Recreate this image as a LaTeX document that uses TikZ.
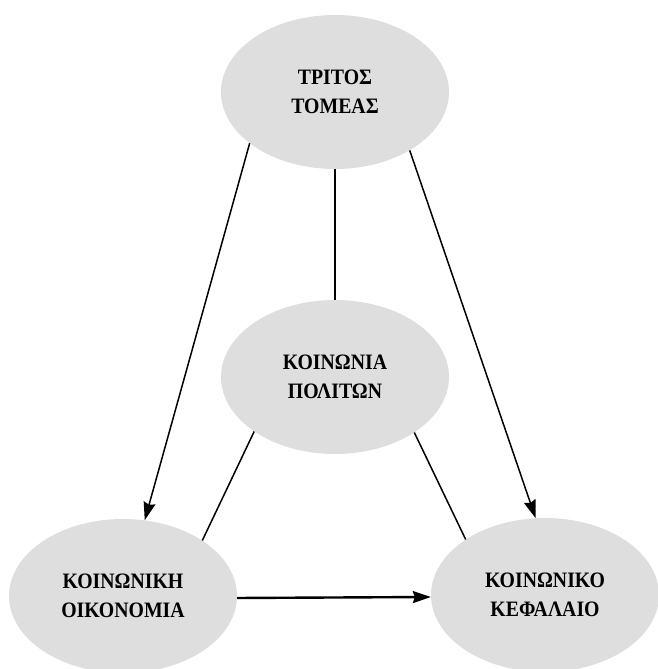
\documentclass[tikz,border=0pt]{standalone}
\usepackage{fontspec}
\setmainfont[FakeStretch=0.9]{Liberation Serif}
\usetikzlibrary{shapes.geometric,arrows.meta}
\definecolor{ellgray}{RGB}{222,222,222}

\begin{document}
\begin{tikzpicture}[x=1pt,y=-1pt,
		sector/.style={ellipse,fill=ellgray,minimum width=228pt,minimum height=154pt,inner sep=0pt,
			align=center,font=\fontsize{22}{29}\selectfont\bfseries},
		link/.style={line width=1.5pt},
		flow/.style={line width=1.5pt,-{Stealth[length=18pt,width=12pt,inset=2pt]}}]
	\useasboundingbox (0,0) rectangle (658,669);
	\node[sector] (third) at (335,92) {ΤΡΙΤΟΣ\\ΤΟΜΕΑΣ};
	\node[sector] (civil) at (335,377) {ΚΟΙΝΩΝΙΑ\\ΠΟΛΙΤΩΝ};
	\node[sector] (economy) at (123,596) {ΚΟΙΝΩΝΙΚΗ\\ΟΙΚΟΝΟΜΙΑ};
	\node[sector] (capital) at (545,595) {ΚΟΙΝΩΝΙΚΟ\\ΚΕΦΑΛΑΙΟ};
	\draw[flow] (third.211) -- (economy.74);
	\draw[flow] (third.322) -- (capital.97);
	\draw[link] (third.south) -- (civil.north);
	\draw[link] (civil.214) -- (economy.35);
	\draw[link] (civil.325) -- (capital.145);
	\draw[flow,line width=2.4pt] (economy.-1.5) -- (capital.181.5);
\end{tikzpicture}
\end{document}
